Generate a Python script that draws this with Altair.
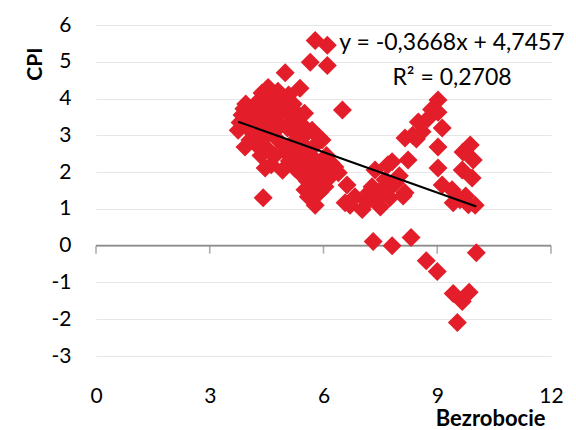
import altair as alt
import pandas as pd

# Unemployment (Bezrobocie) and CPI values
bezrobocie = [
    3.75, 3.80, 3.85, 3.90, 3.95, 3.93, 4.00, 4.05, 4.06, 4.10, 4.15, 4.20, 4.22, 4.28, 4.30,
    4.35, 4.38, 4.40, 4.41, 4.45, 4.46, 4.50, 4.54, 4.55, 4.60, 4.62, 4.65, 4.70, 4.72, 4.75,
    4.80, 4.82, 4.85, 4.90, 4.92, 4.95, 4.99, 5.00, 5.05, 5.08, 5.10, 5.15, 5.18, 5.20, 5.25,
    5.28, 5.30, 5.35, 5.38, 5.40, 5.42, 5.45, 5.50, 5.51, 5.52, 5.55, 5.58, 5.60, 5.62, 5.65,
    5.68, 5.70, 5.72, 5.75, 5.78, 5.78, 5.80, 5.85, 5.88, 5.90, 5.92, 5.96, 6.00, 6.04, 6.08,
    6.10, 6.10, 6.15, 6.20, 6.30, 6.39, 6.50,
    6.57, 6.62, 6.70, 6.83, 7.02, 7.15, 7.20, 7.28, 7.31, 7.36, 7.40, 7.50, 7.55, 7.62, 7.70,
    7.70, 7.75, 7.81, 7.81, 7.90, 8.00, 8.10, 8.15, 8.15, 8.23, 8.31, 8.35, 8.45, 8.50, 8.60,
    8.71, 8.75, 8.85, 9.00, 9.02, 9.02, 9.02, 9.02, 9.13, 9.13, 9.39, 9.42, 9.42, 9.53, 9.60,
    9.66, 9.66, 9.68, 9.75, 9.82, 9.84, 9.87, 9.92, 9.95, 10.03, 10.00,
]
cpi = [
    3.14, 3.35, 3.55, 3.72, 3.85, 2.68, 3.30, 3.60, 2.87, 3.10, 3.78, 3.45, 2.75, 3.20, 3.95,
    2.45, 4.15, 3.60, 1.30, 2.95, 2.11, 3.35, 4.30, 2.60, 3.85, 2.20, 4.05, 3.10, 2.45, 3.55,
    4.20, 2.85, 3.30, 3.68, 2.05, 3.95, 4.70, 2.55, 3.20, 4.10, 2.30, 3.50, 2.80, 3.85, 2.10,
    3.05, 3.60, 2.50, 4.28, 1.95, 3.30, 2.75, 3.60, 1.52, 2.25, 3.05, 1.75, 1.33, 2.50, 4.99,
    2.00, 3.14, 1.55, 2.70, 5.58, 1.10, 2.30, 1.80, 2.95, 1.45, 2.15, 2.87, 1.95, 1.60, 2.45,
    5.45, 4.90, 1.85, 2.25, 2.14, 1.98, 3.69,
    1.17, 1.65, 1.10, 1.33, 0.98, 1.19, 1.45, 1.60, 0.11, 2.06, 1.25, 1.05, 1.55, 1.79, 2.20,
    1.52, 1.30, 2.28, 0.00, 1.70, 1.90, 1.35, 1.44, 2.93, 2.33, 0.22, 3.00, 2.90, 3.36, 3.10,
    -0.41, 3.45, 3.70, -0.70, 3.96, 3.63, 2.68, 2.11, 3.20, 1.65, 1.52, 1.17, -1.30, -2.09, 1.25,
    2.06, -1.52, 2.55, 1.35, 1.11, -1.27, 2.74, 1.84, 2.33, -0.19, 1.10,
]

# Trendline as stated on the chart
slope = -0.3668
intercept = 4.7457
equation = "y = -0,3668x + 4,7457"
r2_text = "R² = 0,2708"

x_ticks = [0, 3, 6, 9, 12]
y_ticks = [-3, -2, -1, 0, 1, 2, 3, 4, 5, 6]

FONT = "Lato"
RED = "#E31E2A"

df = pd.DataFrame({"Bezrobocie": bezrobocie, "CPI": cpi})
tx = [min(bezrobocie), max(bezrobocie)]
trend = pd.DataFrame({"Bezrobocie": tx, "CPI": [slope * v + intercept for v in tx]})
ticks_df = pd.DataFrame({"t": x_ticks})
one = pd.DataFrame({"k": [0]})

xscale = alt.Scale(domain=[0, 12], nice=False, zero=False)
yscale = alt.Scale(domain=[-3, 6], nice=False, zero=False)

x_axis = alt.Axis(
    values=x_ticks, grid=False, domain=False, ticks=False,
    labelFont=FONT, labelFontSize=21, labelColor="#000", labelPadding=29,
    labelFlush=False, labelOverlap=False,
    title="Bezrobocie", titleFont=FONT, titleFontSize=22, titleFontWeight="bold",
    titleColor="#000", titleAnchor="end", titleAlign="right",
    titleBaseline="alphabetic", titleY=69, titleX=449,
)
y_axis = alt.Axis(
    values=y_ticks, tickCount=10, grid=True, gridColor="#E6E6E6", gridWidth=1.2,
    domain=False, ticks=False, labelOverlap=False, labelFlush=False,
    labelExpr="'' + datum.value",
    labelFont=FONT, labelFontSize=21, labelColor="#000", labelPadding=25,
    title="CPI", titleFont=FONT, titleFontSize=21, titleFontWeight="bold",
    titleColor="#000", titleAlign="right", titleAngle=-90, titleX=-61, titleY=22,
    titleBaseline="middle",
)

points = alt.Chart(df).mark_point(
    shape="diamond", filled=True, size=361, color=RED, opacity=1
).encode(
    x=alt.X("Bezrobocie:Q", scale=xscale, axis=x_axis),
    y=alt.Y("CPI:Q", scale=yscale, axis=y_axis),
)

zero_line = alt.Chart(one).mark_rule(color="#8C8C8C", strokeWidth=1.6).encode(
    x=alt.datum(0, scale=xscale, axis=x_axis), x2=alt.datum(12),
    y=alt.datum(0, scale=yscale, axis=y_axis),
)

tick_marks = alt.Chart(ticks_df).mark_tick(
    orient="vertical", size=8, thickness=1.6, color="#8C8C8C", yOffset=4
).encode(
    x=alt.X("t:Q", scale=xscale, axis=x_axis),
    y=alt.datum(0, scale=yscale, axis=y_axis),
)

trend_line = alt.Chart(trend).mark_line(color="#000", strokeWidth=2).encode(
    x=alt.X("Bezrobocie:Q", scale=xscale, axis=x_axis),
    y=alt.Y("CPI:Q", scale=yscale, axis=y_axis),
)

eq_text = alt.Chart(one).mark_text(
    text=equation, font=FONT, fontSize=23, color="#000", align="center", baseline="middle"
).encode(x=alt.value(356), y=alt.value(18))

r2 = alt.Chart(one).mark_text(
    text=r2_text, font=FONT, fontSize=23, color="#000", align="center", baseline="middle"
).encode(x=alt.value(356), y=alt.value(53))

chart = alt.layer(zero_line, tick_marks, points, trend_line, eq_text, r2).properties(
    width=455, height=331,
    autosize=alt.AutoSizeParams(type="none"),
    padding={"left": 96, "top": 25, "right": 25, "bottom": 74},
    background="white",
).configure_view(stroke=None)

chart.save("out.html", embed_options={"renderer": "svg", "actions": False})
